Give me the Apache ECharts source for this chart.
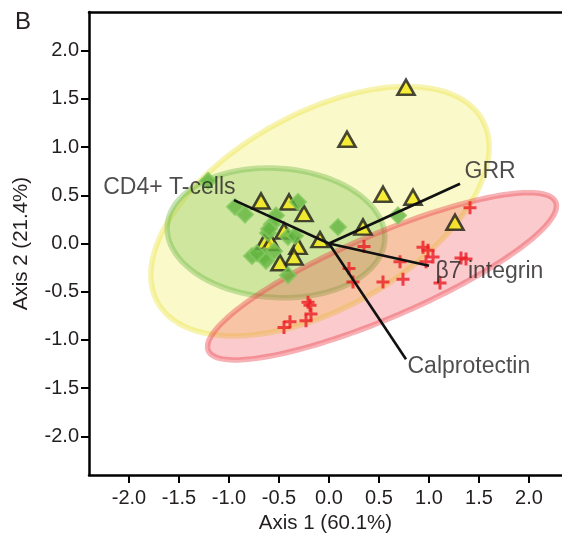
<!DOCTYPE html>
<html>
<head>
<meta charset="utf-8">
<script src="https://cdn.jsdelivr.net/npm/echarts@6/dist/echarts.min.js"></script>
<style>
  html, body { margin: 0; padding: 0; background: #fff; }
  #chart { width: 562px; height: 540px; }
</style>
</head>
<body>
<div id="chart"></div>
<script>
// Axis ticks
const xTicks = [-2.0, -1.5, -1.0, -0.5, 0.0, 0.5, 1.0, 1.5, 2.0];
const yTicks = [-2.0, -1.5, -1.0, -0.5, 0.0, 0.5, 1.0, 1.5, 2.0];

// Group scores on Axis 1 / Axis 2
const groupA = [ // yellow triangles
  [0.77, 1.62], [0.18, 1.08], [0.54, 0.51], [0.84, 0.48], [0.34, 0.17], [1.26, 0.22],
  [-0.68, 0.44], [-0.40, 0.43], [-0.25, 0.31], [-0.45, 0.13], [-0.09, 0.04],
  [-0.64, 0.02], [-0.58, 0.01], [-0.31, -0.03], [-0.35, -0.14], [-0.49, -0.20]
];
const groupB = [ // green diamonds
  [-1.21, 0.65], [-0.94, 0.38], [-0.84, 0.30], [-0.31, 0.43], [-0.53, 0.29], [-0.57, 0.20],
  [-0.61, 0.11], [-0.41, 0.07], [-0.34, 0.08], [0.09, 0.17], [0.69, 0.29], [-0.55, -0.08],
  [-0.65, -0.13], [-0.77, -0.13], [-0.63, -0.18], [-0.72, -0.10], [-0.41, -0.33], [-0.60, 0.15]
];
const groupC = [ // red crosses
  [1.41, 0.37], [0.35, -0.03], [0.94, -0.04], [0.99, -0.07], [1.04, -0.14], [0.97, -0.19],
  [0.71, -0.19], [1.32, -0.15], [1.37, -0.16], [0.20, -0.26], [0.24, -0.40], [0.54, -0.40],
  [0.74, -0.37], [1.11, -0.41],
  [-0.21, -0.61], [-0.19, -0.64], [-0.18, -0.73], [-0.23, -0.80], [-0.39, -0.81], [-0.45, -0.87]
];

// Confidence ellipses: [centre x, centre y, semi-axis 1, semi-axis 2, angle in degrees]
const ellipseA = [-0.09, 0.335, 1.88, 1.00, 31];
const ellipseB = [-0.53, 0.11, 1.09, 0.67, -4];
const ellipseC = [0.53, -0.34, 1.90, 0.43, 24];

// Variable loadings (biplot vectors)
const loadingNames = ['CD4+ T-cells', 'GRR', 'β7 integrin', 'Calprotectin'];
const loadingX = [-0.95, 1.31, 1.00, 0.77];
const loadingY = [0.45, 0.62, -0.23, -1.20];

const FONT = 'Liberation Sans, Arial, Helvetica, sans-serif';
const TEXT = '#231f20';
const X_MIN = -2.4, X_MAX = 2.33, Y_MIN = -2.4, Y_MAX = 2.4;

function ellipseSeries(params, fill, stroke) {
  return {
    type: 'custom',
    coordinateSystem: 'cartesian2d',
    silent: true,
    z: 1,
    clip: true,
    data: [params],
    renderItem: function (p, api) {
      const cx = api.value(0), cy = api.value(1);
      const rx = api.value(2), ry = api.value(3);
      const ang = api.value(4) * Math.PI / 180;
      const pts = [];
      const n = 180;
      for (let i = 0; i < n; i++) {
        const t = i / n * 2 * Math.PI;
        const ex = rx * Math.cos(t), ey = ry * Math.sin(t);
        pts.push(api.coord([
          cx + ex * Math.cos(ang) - ey * Math.sin(ang),
          cy + ex * Math.sin(ang) + ey * Math.cos(ang)
        ]));
      }
      return {
        type: 'polygon',
        shape: { points: pts },
        style: { fill: fill, stroke: stroke, lineWidth: 5.5 }
      };
    }
  };
}

const vectorSeries = loadingNames.map((name, i) => ({
  type: 'line',
  name: name,
  data: [[0, 0], [loadingX[i], loadingY[i]]],
  symbol: 'none',
  silent: true,
  z: 5,
  lineStyle: { color: '#111', width: 2.6 }
}));

const labelLayout = [
  { align: 'right', position: [2, -12] },
  { align: 'left', position: [5, -12] },
  { align: 'left', position: [7, 6] },
  { align: 'left', position: [2, 8] }
];

const vectorLabels = {
  type: 'scatter',
  silent: true,
  z: 6,
  symbolSize: 1,
  itemStyle: { color: 'rgba(0,0,0,0)' },
  data: loadingNames.map((name, i) => ({
    value: [loadingX[i], loadingY[i]],
    label: {
      show: true,
      formatter: name,
      position: labelLayout[i].position,
      align: labelLayout[i].align,
      verticalAlign: 'middle',
      fontFamily: FONT,
      fontSize: 23,
      color: TEXT
    }
  }))
};

const chart = echarts.init(document.getElementById('chart'), null, { renderer: 'canvas' });

chart.setOption({
  animation: false,
  backgroundColor: '#fff',
  title: {
    text: 'B', left: 10, top: 5,
    textStyle: { fontFamily: FONT, fontSize: 24, fontWeight: 'normal', color: TEXT }
  },
  grid: {
    left: 89, top: 12, width: 473, height: 463, show: false,
    containLabel: false, outerBoundsMode: 'none'
  },
  xAxis: [{
    type: 'value', min: X_MIN, max: X_MAX,
    name: 'Axis 1 (60.1%)', nameLocation: 'middle', nameGap: 37,
    nameTextStyle: { fontFamily: FONT, fontSize: 20.5, color: TEXT },
    axisLine: { show: true, onZero: false, lineStyle: { color: '#000', width: 2.5 } },
    axisTick: { show: true, length: 8, customValues: xTicks, lineStyle: { color: '#000', width: 2 } },
    axisLabel: {
      customValues: xTicks, margin: 13,
      fontFamily: FONT, fontSize: 20, color: TEXT,
      formatter: v => v.toFixed(1)
    },
    splitLine: { show: false }
  }, {
    // top frame line
    type: 'value', position: 'top', min: X_MIN, max: X_MAX,
    axisLine: { show: true, onZero: false, lineStyle: { color: '#000', width: 2.5 } },
    axisTick: { show: false }, axisLabel: { show: false }, splitLine: { show: false }
  }],
  yAxis: {
    type: 'value', min: Y_MIN, max: Y_MAX,
    name: 'Axis 2 (21.4%)', nameLocation: 'middle', nameGap: 57, nameRotate: 90,
    nameTextStyle: { fontFamily: FONT, fontSize: 20.5, color: TEXT },
    axisLine: { show: true, onZero: false, lineStyle: { color: '#000', width: 2.5 } },
    axisTick: { show: true, length: 8, customValues: yTicks, lineStyle: { color: '#000', width: 2 } },
    axisLabel: {
      customValues: yTicks, margin: 10,
      fontFamily: FONT, fontSize: 20, color: TEXT,
      formatter: v => v.toFixed(1)
    },
    splitLine: { show: false }
  },
  series: [
    ellipseSeries(ellipseA, 'rgba(240,235,80,0.30)', 'rgba(235,228,70,0.42)'),
    ellipseSeries(ellipseB, 'rgba(120,190,70,0.33)', 'rgba(110,185,70,0.40)'),
    ellipseSeries(ellipseC, 'rgba(238,50,60,0.26)', 'rgba(235,60,70,0.40)'),
    {
      type: 'scatter', name: 'C', z: 3, silent: true,
      symbol: 'path://M5,0h3v5h5v3h-5v5h-3v-5h-5v-3h5z',
      symbolSize: 13,
      itemStyle: { color: '#ec1c24' },
      data: groupC
    },
    {
      type: 'scatter', name: 'A', z: 3, silent: true,
      symbol: 'triangle', symbolSize: [17, 15],
      itemStyle: { color: '#f5ea14', borderColor: '#1a1a1a', borderWidth: 2.6 },
      data: groupA
    },
    {
      type: 'scatter', name: 'B', z: 4, silent: true,
      symbol: 'diamond', symbolSize: [16, 16],
      itemStyle: { color: '#62b43f', borderColor: 'rgba(130,200,95,0.95)', borderWidth: 2 },
      data: groupB
    },
    ...vectorSeries,
    vectorLabels
  ]
});
</script>
</body>
</html>
